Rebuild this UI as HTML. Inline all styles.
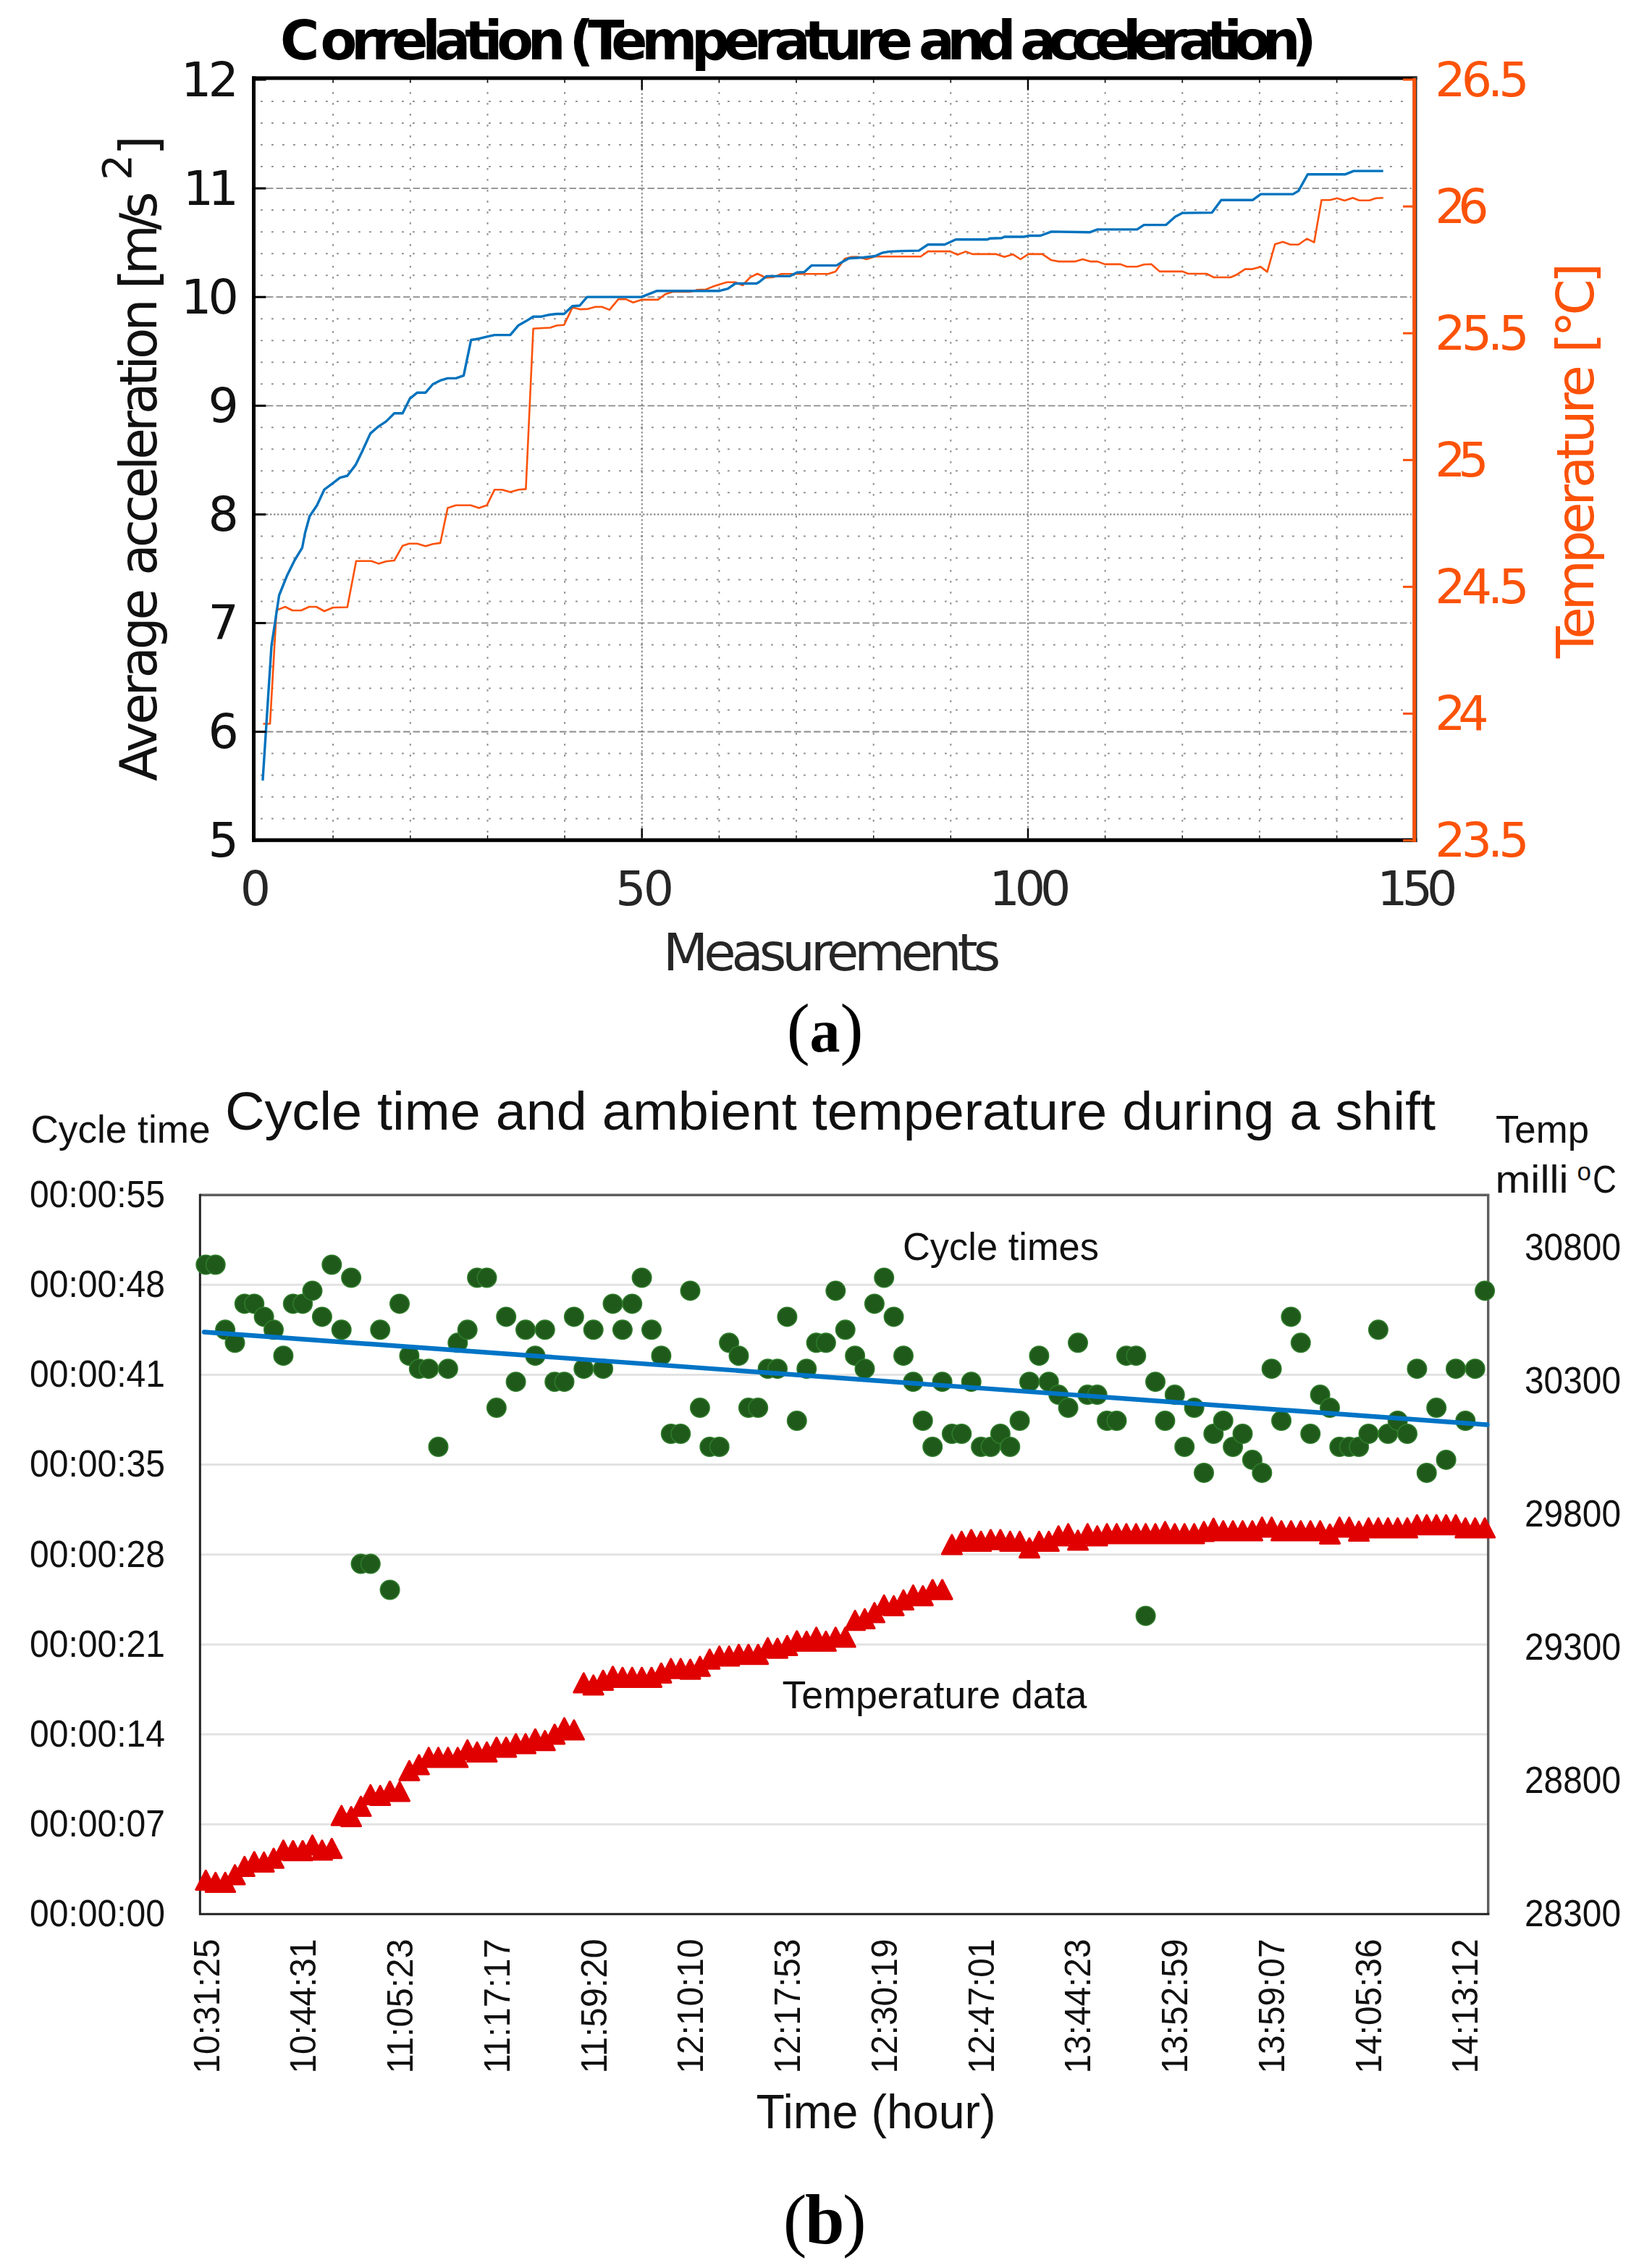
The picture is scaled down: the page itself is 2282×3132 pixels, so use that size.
<!DOCTYPE html>
<html lang="en"><head><meta charset="utf-8"><title>Figure: temperature correlation</title>
<style>html,body{margin:0;padding:0;background:#fff}svg{display:block}</style></head>
<body>
<svg width="2282" height="3132" viewBox="0 0 2282 3132">
<rect width="2282" height="3132" fill="#fff"/>
<g id="grid-a" fill="none" stroke="#6e6e6e">
<path d="M360 1130.6H1950M360 1100.6H1950M360 1070.6H1950M360 1040.5H1950M360 980.5H1950M360 950.5H1950M360 920.5H1950M360 890.5H1950M360 830.4H1950M360 800.4H1950M360 770.4H1950M360 740.4H1950M360 680.3H1950M360 650.3H1950M360 620.3H1950M360 590.3H1950M360 530.3H1950M360 500.2H1950M360 470.2H1950M360 440.2H1950M360 380.2H1950M360 350.2H1950M360 320.2H1950M360 290.1H1950M360 230.1H1950M360 200.1H1950M360 170.1H1950M360 140.1H1950" stroke-width="2" stroke-dasharray="2.8 12.2" opacity=".76"/>
<path d="M368 1010.5H1950M368 860.4H1950M368 560.3H1950M368 410.2H1950M368 260.1H1950" stroke-width="1.8" stroke-dasharray="9.5 4" opacity=".8"/>
<path d="M368 710.4H1950" stroke-width="2.2" stroke-dasharray="2.4 2.6" opacity=".8"/>
<path d="M460.1 112V1156M566.8 112V1156M673.5 112V1156M780.1 112V1156M993.4 112V1156M1100.0 112V1156M1206.7 112V1156M1313.3 112V1156M1526.6 112V1156M1633.3 112V1156M1739.9 112V1156M1846.6 112V1156" stroke-width="2" stroke-dasharray="2.8 12.2" opacity=".76"/>
<path d="M886.8 112V1156M1420.0 112V1156" stroke-width="2.2" stroke-dasharray="2.5 3" opacity=".75"/>
</g>
<polyline fill="none" stroke="#fb5208" stroke-width="2.6" stroke-linejoin="round" points="363.4,999.5 373.0,999.5 382.0,842.6 394.0,838.0 404.0,843.0 416.0,843.0 427.0,838.0 437.0,838.0 448.0,844.0 460.0,839.0 479.8,838.5 492.0,774.8 512.9,774.8 523.0,778.4 533.2,775.3 544.7,774.0 556.1,753.7 565.0,750.7 576.4,750.7 587.9,754.2 598.0,751.2 608.2,749.9 618.4,701.6 629.8,697.8 650.2,697.8 661.6,701.6 672.5,697.8 683.2,676.2 693.4,676.2 704.8,679.5 716.3,676.2 726.4,675.4 736.6,453.7 760.2,452.5 769.0,449.5 779.2,448.7 790.7,424.6 800.8,427.1 812.3,426.6 822.5,423.8 831.4,423.8 842.0,427.9 854.2,413.1 864.4,413.1 874.6,417.7 886.0,413.9 908.9,413.9 919.0,406.3 929.2,403.0 953.4,403.0 962.3,400.4 975.0,399.7 983.9,396.1 994.0,392.8 1004.2,389.7 1015.7,389.7 1025.9,394.0 1036.0,383.1 1046.2,378.0 1057.6,383.4 1069.0,382.6 1079.2,378.3 1144.0,378.3 1154.2,375.0 1167.0,357.2 1176.5,354.7 1185.4,354.7 1196.9,358.0 1208.3,354.2 1271.9,354.2 1282.0,347.1 1312.5,347.1 1322.7,351.7 1334.2,347.4 1343.0,350.9 1376.1,350.9 1387.5,354.7 1399.0,351.2 1409.7,358.0 1420.6,350.9 1439.7,350.9 1452.4,359.3 1462.5,361.1 1485.4,361.1 1495.6,358.0 1505.8,361.1 1516.0,361.1 1526.1,364.9 1547.7,364.9 1556.6,368.2 1570.6,368.2 1580.2,365.3 1590.3,364.7 1601.8,374.9 1633.6,374.9 1641.2,378.0 1666.6,378.0 1676.8,383.0 1699.7,383.0 1708.6,379.2 1720.0,371.6 1730.2,371.6 1741.6,368.6 1750.5,375.4 1761.2,337.3 1772.1,334.0 1782.3,337.8 1793.7,337.8 1805.2,329.7 1815.3,334.7 1825.5,276.3 1837.0,276.3 1847.1,273.7 1857.3,277.0 1868.7,273.2 1877.6,276.8 1891.6,276.8 1900.5,273.7 1910.7,273.2"/>
<polyline fill="none" stroke="#0072bd" stroke-width="3.4" stroke-linejoin="round" points="362.9,1077.8 375.0,892.0 385.6,822.0 396.2,795.6 406.8,774.0 417.5,756.3 421.4,736.0 427.7,713.0 437.9,697.8 448.0,676.0 458.0,668.6 469.7,659.7 479.8,657.0 491.3,641.9 500.0,624.0 511.6,598.6 521.8,589.7 533.2,582.1 544.7,570.7 556.1,570.7 566.3,550.3 576.4,542.2 587.9,542.2 598.0,530.5 608.2,525.4 618.4,522.4 629.8,522.4 640.5,518.6 650.7,469.5 661.6,467.7 671.8,465.2 683.2,462.6 704.8,462.6 716.3,449.2 726.4,443.6 736.6,437.2 748.0,437.2 758.6,434.7 769.0,433.5 779.2,433.5 790.7,422.8 800.8,422.0 811.0,410.1 886.0,410.1 907.6,401.7 994.0,401.7 1005.5,398.6 1015.7,391.5 1045.0,391.5 1048.7,389.5 1058.9,381.4 1090.7,381.4 1100.9,376.3 1111.0,375.8 1121.2,366.6 1155.5,366.6 1163.0,362.0 1172.7,356.8 1193.0,355.5 1208.3,353.7 1218.5,349.2 1228.6,347.4 1246.4,346.6 1269.3,346.1 1282.0,337.7 1304.9,337.7 1320.2,330.8 1363.4,330.8 1367.2,329.3 1383.7,328.8 1387.5,327.0 1414.2,327.0 1421.9,325.5 1437.1,325.5 1452.4,319.9 1505.8,320.7 1516.0,316.9 1570.6,316.9 1580.2,310.6 1610.7,310.6 1623.4,299.2 1633.6,294.1 1674.2,293.6 1687.0,276.3 1730.2,276.3 1741.6,268.1 1786.1,268.1 1793.7,263.6 1806.4,240.7 1858.6,240.7 1870.0,236.1 1910.7,236.1"/>
<g id="frame-a">
<rect x="348" y="105.4" width="1609.5" height="5" fill="#000"/>
<rect x="348" y="1157.6" width="1609.5" height="5.2" fill="#000"/>
<rect x="348" y="105.4" width="5" height="1057.4" fill="#000"/>
<rect x="1951.5" y="105.4" width="6" height="1057.4" fill="#333"/>
<rect x="1951.3" y="108" width="4.8" height="1054.8" fill="#fb5208"/>
<rect x="353" y="1159.1" width="14.5" height="3" fill="#000"/>
<rect x="353" y="1009.0" width="14.5" height="3" fill="#000"/>
<rect x="353" y="858.9" width="14.5" height="3" fill="#000"/>
<rect x="353" y="708.9" width="14.5" height="3" fill="#000"/>
<rect x="353" y="558.8" width="14.5" height="3" fill="#000"/>
<rect x="353" y="408.7" width="14.5" height="3" fill="#000"/>
<rect x="353" y="258.6" width="14.5" height="3" fill="#000"/>
<rect x="353" y="108.5" width="14.5" height="3" fill="#000"/>
<rect x="1938" y="1159.1" width="14" height="3" fill="#fb5208"/>
<rect x="1938" y="984.0" width="14" height="3" fill="#fb5208"/>
<rect x="1938" y="808.9" width="14" height="3" fill="#fb5208"/>
<rect x="1938" y="633.8" width="14" height="3" fill="#fb5208"/>
<rect x="1938" y="458.7" width="14" height="3" fill="#fb5208"/>
<rect x="1938" y="283.6" width="14" height="3" fill="#fb5208"/>
<rect x="1938" y="108.5" width="14" height="3" fill="#fb5208"/>
<rect x="459.4" y="1153.6" width="1.4" height="4" fill="#000"/>
<rect x="459.4" y="110" width="1.4" height="4" fill="#000"/>
<rect x="566.1" y="1153.6" width="1.4" height="4" fill="#000"/>
<rect x="566.1" y="110" width="1.4" height="4" fill="#000"/>
<rect x="672.8" y="1153.6" width="1.4" height="4" fill="#000"/>
<rect x="672.8" y="110" width="1.4" height="4" fill="#000"/>
<rect x="779.4" y="1153.6" width="1.4" height="4" fill="#000"/>
<rect x="779.4" y="110" width="1.4" height="4" fill="#000"/>
<rect x="885.5" y="1143.6" width="2.4" height="14" fill="#000"/>
<rect x="885.5" y="110" width="2.4" height="14" fill="#000"/>
<rect x="992.7" y="1153.6" width="1.4" height="4" fill="#000"/>
<rect x="992.7" y="110" width="1.4" height="4" fill="#000"/>
<rect x="1099.3" y="1153.6" width="1.4" height="4" fill="#000"/>
<rect x="1099.3" y="110" width="1.4" height="4" fill="#000"/>
<rect x="1206.0" y="1153.6" width="1.4" height="4" fill="#000"/>
<rect x="1206.0" y="110" width="1.4" height="4" fill="#000"/>
<rect x="1312.6" y="1153.6" width="1.4" height="4" fill="#000"/>
<rect x="1312.6" y="110" width="1.4" height="4" fill="#000"/>
<rect x="1418.8" y="1143.6" width="2.4" height="14" fill="#000"/>
<rect x="1418.8" y="110" width="2.4" height="14" fill="#000"/>
<rect x="1525.9" y="1153.6" width="1.4" height="4" fill="#000"/>
<rect x="1525.9" y="110" width="1.4" height="4" fill="#000"/>
<rect x="1632.6" y="1153.6" width="1.4" height="4" fill="#000"/>
<rect x="1632.6" y="110" width="1.4" height="4" fill="#000"/>
<rect x="1739.2" y="1153.6" width="1.4" height="4" fill="#000"/>
<rect x="1739.2" y="110" width="1.4" height="4" fill="#000"/>
<rect x="1845.9" y="1153.6" width="1.4" height="4" fill="#000"/>
<rect x="1845.9" y="110" width="1.4" height="4" fill="#000"/>
</g>
<g id="text-a" font-family="DejaVu Sans, Liberation Sans, sans-serif">
<text y="81.5" font-size="74" font-weight="bold" fill="#000"><tspan x="387">C</tspan><tspan x="442.4" textLength="339" lengthAdjust="spacing">orrelation</tspan> <tspan x="786.5" textLength="474.5" lengthAdjust="spacing">(Temperature</tspan> <tspan x="1269" textLength="134.4" lengthAdjust="spacing">and</tspan> <tspan x="1409.3" textLength="409.4" lengthAdjust="spacing">acceleration)</tspan></text>
<text x="329.8" y="1183.1" font-size="66.5" text-anchor="end" fill="#111">5</text>
<text x="329.8" y="1033.0" font-size="66.5" text-anchor="end" fill="#111">6</text>
<text x="329.8" y="882.9" font-size="66.5" text-anchor="end" fill="#111">7</text>
<text x="329.8" y="732.9" font-size="66.5" text-anchor="end" fill="#111">8</text>
<text x="329.8" y="582.8" font-size="66.5" text-anchor="end" fill="#111">9</text>
<text x="329.8" y="432.7" font-size="66.5" text-anchor="end" fill="#111" textLength="79.9" lengthAdjust="spacing">10</text>
<text x="329.8" y="282.6" font-size="66.5" text-anchor="end" fill="#111" textLength="77" lengthAdjust="spacing">11</text>
<text x="329.8" y="132.5" font-size="66.5" text-anchor="end" fill="#111" textLength="79.9" lengthAdjust="spacing">12</text>
<text x="1982.3" y="1183.1" font-size="66.5" fill="#fb5208" textLength="130.3" lengthAdjust="spacing">23.5</text>
<text x="1982.3" y="1008.0" font-size="66.5" fill="#fb5208" textLength="74.2" lengthAdjust="spacing">24</text>
<text x="1982.3" y="832.9" font-size="66.5" fill="#fb5208" textLength="130.3" lengthAdjust="spacing">24.5</text>
<text x="1982.3" y="657.8" font-size="66.5" fill="#fb5208" textLength="74.2" lengthAdjust="spacing">25</text>
<text x="1982.3" y="482.7" font-size="66.5" fill="#fb5208" textLength="130.3" lengthAdjust="spacing">25.5</text>
<text x="1982.3" y="307.6" font-size="66.5" fill="#fb5208" textLength="74.2" lengthAdjust="spacing">26</text>
<text x="1982.3" y="132.5" font-size="66.5" fill="#fb5208" textLength="130.3" lengthAdjust="spacing">26.5</text>
<text x="353.0" y="1249.5" font-size="66.5" text-anchor="middle" fill="#262626">0</text>
<text x="890.7" y="1249.5" font-size="66.5" text-anchor="middle" fill="#262626" textLength="80.7" lengthAdjust="spacing">50</text>
<text x="1422.9" y="1249.5" font-size="66.5" text-anchor="middle" fill="#262626" textLength="113" lengthAdjust="spacing">100</text>
<text x="1957.8" y="1249.5" font-size="66.5" text-anchor="middle" fill="#262626" textLength="110.9" lengthAdjust="spacing">150</text>
<text x="916" y="1339.8" font-size="72" fill="#262626" textLength="466.3" lengthAdjust="spacing">Measurements</text>
<g transform="translate(215.7 1078.8) rotate(-90)" fill="#111" font-size="71"><text textLength="266.1" lengthAdjust="spacing">Average</text><text x="284.1" textLength="382.2" lengthAdjust="spacing">acceleration</text><text x="679.5" textLength="134.7" lengthAdjust="spacing">[m/s</text><text x="830" y="-34.3" font-size="56">2</text><text x="864">]</text></g>
<g transform="translate(2200.5 910) rotate(-90)" fill="#fb5208" font-size="72"><text x="1" textLength="404.8" lengthAdjust="spacing">Temperature</text><text x="422.4" textLength="124.4" lengthAdjust="spacing">[°C]</text></g>
</g>
<text x="1139.6" y="1451.8" font-family="Liberation Serif, DejaVu Serif, serif" font-size="96" text-anchor="middle" fill="#000">(<tspan font-weight="bold" font-size="84">a</tspan>)</text>
<g id="chart-b">
<path d="M276.3 1774.3H2055.7M276.3 1898.5H2055.7M276.3 2022.6H2055.7M276.3 2146.8H2055.7M276.3 2270.9H2055.7M276.3 2395.0H2055.7M276.3 2519.2H2055.7" stroke="#e2e2e2" stroke-width="3" fill="none"/>
<path d="M276.3 1650.2H2055.7V2643.3" fill="none" stroke="#5e5e5e" stroke-width="3.4"/>
<path d="M276.3 1648.7V2643.3H2057.4" fill="none" stroke="#222" stroke-width="3"/>
<g fill="#1f5a1b" stroke="#2f7a2a" stroke-width="1.6">
<circle cx="284.3" cy="1746.5" r="13.2"/>
<circle cx="297.7" cy="1746.5" r="13.2"/>
<circle cx="311.1" cy="1836.3" r="13.2"/>
<circle cx="324.5" cy="1854.3" r="13.2"/>
<circle cx="337.8" cy="1800.4" r="13.2"/>
<circle cx="351.2" cy="1800.4" r="13.2"/>
<circle cx="364.6" cy="1818.4" r="13.2"/>
<circle cx="378.0" cy="1836.3" r="13.2"/>
<circle cx="391.4" cy="1872.2" r="13.2"/>
<circle cx="404.8" cy="1800.4" r="13.2"/>
<circle cx="418.1" cy="1800.4" r="13.2"/>
<circle cx="431.5" cy="1782.4" r="13.2"/>
<circle cx="444.9" cy="1818.4" r="13.2"/>
<circle cx="458.3" cy="1746.5" r="13.2"/>
<circle cx="471.7" cy="1836.3" r="13.2"/>
<circle cx="485.1" cy="1764.5" r="13.2"/>
<circle cx="498.5" cy="2159.6" r="13.2"/>
<circle cx="511.8" cy="2159.6" r="13.2"/>
<circle cx="525.2" cy="1836.3" r="13.2"/>
<circle cx="538.6" cy="2195.5" r="13.2"/>
<circle cx="552.0" cy="1800.4" r="13.2"/>
<circle cx="565.4" cy="1872.2" r="13.2"/>
<circle cx="578.8" cy="1890.2" r="13.2"/>
<circle cx="592.2" cy="1890.2" r="13.2"/>
<circle cx="605.5" cy="1998.0" r="13.2"/>
<circle cx="618.9" cy="1890.2" r="13.2"/>
<circle cx="632.3" cy="1854.3" r="13.2"/>
<circle cx="645.7" cy="1836.3" r="13.2"/>
<circle cx="659.1" cy="1764.5" r="13.2"/>
<circle cx="672.5" cy="1764.5" r="13.2"/>
<circle cx="685.9" cy="1944.1" r="13.2"/>
<circle cx="699.2" cy="1818.4" r="13.2"/>
<circle cx="712.6" cy="1908.2" r="13.2"/>
<circle cx="726.0" cy="1836.3" r="13.2"/>
<circle cx="739.4" cy="1872.2" r="13.2"/>
<circle cx="752.8" cy="1836.3" r="13.2"/>
<circle cx="766.2" cy="1908.2" r="13.2"/>
<circle cx="779.5" cy="1908.2" r="13.2"/>
<circle cx="792.9" cy="1818.4" r="13.2"/>
<circle cx="806.3" cy="1890.2" r="13.2"/>
<circle cx="819.7" cy="1836.3" r="13.2"/>
<circle cx="833.1" cy="1890.2" r="13.2"/>
<circle cx="846.5" cy="1800.4" r="13.2"/>
<circle cx="859.9" cy="1836.3" r="13.2"/>
<circle cx="873.2" cy="1800.4" r="13.2"/>
<circle cx="886.6" cy="1764.5" r="13.2"/>
<circle cx="900.0" cy="1836.3" r="13.2"/>
<circle cx="913.4" cy="1872.2" r="13.2"/>
<circle cx="926.8" cy="1980.0" r="13.2"/>
<circle cx="940.2" cy="1980.0" r="13.2"/>
<circle cx="953.5" cy="1782.4" r="13.2"/>
<circle cx="966.9" cy="1944.1" r="13.2"/>
<circle cx="980.3" cy="1998.0" r="13.2"/>
<circle cx="993.7" cy="1998.0" r="13.2"/>
<circle cx="1007.1" cy="1854.3" r="13.2"/>
<circle cx="1020.5" cy="1872.2" r="13.2"/>
<circle cx="1033.9" cy="1944.1" r="13.2"/>
<circle cx="1047.2" cy="1944.1" r="13.2"/>
<circle cx="1060.6" cy="1890.2" r="13.2"/>
<circle cx="1074.0" cy="1890.2" r="13.2"/>
<circle cx="1087.4" cy="1818.4" r="13.2"/>
<circle cx="1100.8" cy="1962.0" r="13.2"/>
<circle cx="1114.2" cy="1890.2" r="13.2"/>
<circle cx="1127.6" cy="1854.3" r="13.2"/>
<circle cx="1140.9" cy="1854.3" r="13.2"/>
<circle cx="1154.3" cy="1782.4" r="13.2"/>
<circle cx="1167.7" cy="1836.3" r="13.2"/>
<circle cx="1181.1" cy="1872.2" r="13.2"/>
<circle cx="1194.5" cy="1890.2" r="13.2"/>
<circle cx="1207.9" cy="1800.4" r="13.2"/>
<circle cx="1221.2" cy="1764.5" r="13.2"/>
<circle cx="1234.6" cy="1818.4" r="13.2"/>
<circle cx="1248.0" cy="1872.2" r="13.2"/>
<circle cx="1261.4" cy="1908.2" r="13.2"/>
<circle cx="1274.8" cy="1962.0" r="13.2"/>
<circle cx="1288.2" cy="1998.0" r="13.2"/>
<circle cx="1301.6" cy="1908.2" r="13.2"/>
<circle cx="1314.9" cy="1980.0" r="13.2"/>
<circle cx="1328.3" cy="1980.0" r="13.2"/>
<circle cx="1341.7" cy="1908.2" r="13.2"/>
<circle cx="1355.1" cy="1998.0" r="13.2"/>
<circle cx="1368.5" cy="1998.0" r="13.2"/>
<circle cx="1381.9" cy="1980.0" r="13.2"/>
<circle cx="1395.3" cy="1998.0" r="13.2"/>
<circle cx="1408.6" cy="1962.0" r="13.2"/>
<circle cx="1422.0" cy="1908.2" r="13.2"/>
<circle cx="1435.4" cy="1872.2" r="13.2"/>
<circle cx="1448.8" cy="1908.2" r="13.2"/>
<circle cx="1462.2" cy="1926.1" r="13.2"/>
<circle cx="1475.6" cy="1944.1" r="13.2"/>
<circle cx="1489.0" cy="1854.3" r="13.2"/>
<circle cx="1502.3" cy="1926.1" r="13.2"/>
<circle cx="1515.7" cy="1926.1" r="13.2"/>
<circle cx="1529.1" cy="1962.0" r="13.2"/>
<circle cx="1542.5" cy="1962.0" r="13.2"/>
<circle cx="1555.9" cy="1872.2" r="13.2"/>
<circle cx="1569.3" cy="1872.2" r="13.2"/>
<circle cx="1582.6" cy="2231.4" r="13.2"/>
<circle cx="1596.0" cy="1908.2" r="13.2"/>
<circle cx="1609.4" cy="1962.0" r="13.2"/>
<circle cx="1622.8" cy="1926.1" r="13.2"/>
<circle cx="1636.2" cy="1998.0" r="13.2"/>
<circle cx="1649.6" cy="1944.1" r="13.2"/>
<circle cx="1663.0" cy="2033.9" r="13.2"/>
<circle cx="1676.3" cy="1980.0" r="13.2"/>
<circle cx="1689.7" cy="1962.0" r="13.2"/>
<circle cx="1703.1" cy="1998.0" r="13.2"/>
<circle cx="1716.5" cy="1980.0" r="13.2"/>
<circle cx="1729.9" cy="2015.9" r="13.2"/>
<circle cx="1743.3" cy="2033.9" r="13.2"/>
<circle cx="1756.6" cy="1890.2" r="13.2"/>
<circle cx="1770.0" cy="1962.0" r="13.2"/>
<circle cx="1783.4" cy="1818.4" r="13.2"/>
<circle cx="1796.8" cy="1854.3" r="13.2"/>
<circle cx="1810.2" cy="1980.0" r="13.2"/>
<circle cx="1823.6" cy="1926.1" r="13.2"/>
<circle cx="1837.0" cy="1944.1" r="13.2"/>
<circle cx="1850.3" cy="1998.0" r="13.2"/>
<circle cx="1863.7" cy="1998.0" r="13.2"/>
<circle cx="1877.1" cy="1998.0" r="13.2"/>
<circle cx="1890.5" cy="1980.0" r="13.2"/>
<circle cx="1903.9" cy="1836.3" r="13.2"/>
<circle cx="1917.3" cy="1980.0" r="13.2"/>
<circle cx="1930.7" cy="1962.0" r="13.2"/>
<circle cx="1944.0" cy="1980.0" r="13.2"/>
<circle cx="1957.4" cy="1890.2" r="13.2"/>
<circle cx="1970.8" cy="2033.9" r="13.2"/>
<circle cx="1984.2" cy="1944.1" r="13.2"/>
<circle cx="1997.6" cy="2015.9" r="13.2"/>
<circle cx="2011.0" cy="1890.2" r="13.2"/>
<circle cx="2024.3" cy="1962.0" r="13.2"/>
<circle cx="2037.7" cy="1890.2" r="13.2"/>
<circle cx="2051.1" cy="1782.4" r="13.2"/>
</g>
<path d="M284.3 2583.5l13.4 26h-26.8zM297.7 2586.5l13.4 26h-26.8zM311.1 2586.5l13.4 26h-26.8zM324.5 2575.9l13.4 26h-26.8zM337.8 2564.4l13.4 26h-26.8zM351.2 2557.8l13.4 26h-26.8zM364.6 2558.4l13.4 26h-26.8zM378.0 2553.2l13.4 26h-26.8zM391.4 2542.0l13.4 26h-26.8zM404.8 2542.6l13.4 26h-26.8zM418.1 2542.6l13.4 26h-26.8zM431.5 2535.0l13.4 26h-26.8zM444.9 2542.0l13.4 26h-26.8zM458.3 2539.6l13.4 26h-26.8zM471.7 2494.2l13.4 26h-26.8zM485.1 2495.7l13.4 26h-26.8zM498.5 2481.5l13.4 26h-26.8zM511.8 2465.5l13.4 26h-26.8zM525.2 2466.4l13.4 26h-26.8zM538.6 2460.3l13.4 26h-26.8zM552.0 2460.9l13.4 26h-26.8zM565.4 2432.2l13.4 26h-26.8zM578.8 2424.0l13.4 26h-26.8zM592.2 2414.0l13.4 26h-26.8zM605.5 2414.0l13.4 26h-26.8zM618.9 2414.0l13.4 26h-26.8zM632.3 2414.0l13.4 26h-26.8zM645.7 2403.4l13.4 26h-26.8zM659.1 2406.4l13.4 26h-26.8zM672.5 2406.4l13.4 26h-26.8zM685.9 2399.8l13.4 26h-26.8zM699.2 2399.8l13.4 26h-26.8zM712.6 2394.9l13.4 26h-26.8zM726.0 2394.9l13.4 26h-26.8zM739.4 2388.3l13.4 26h-26.8zM752.8 2390.7l13.4 26h-26.8zM766.2 2381.8l13.4 26h-26.8zM779.5 2373.0l13.4 26h-26.8zM792.9 2376.0l13.4 26h-26.8zM806.3 2310.9l13.4 26h-26.8zM819.7 2313.9l13.4 26h-26.8zM833.1 2307.3l13.4 26h-26.8zM846.5 2301.8l13.4 26h-26.8zM859.9 2303.3l13.4 26h-26.8zM873.2 2303.3l13.4 26h-26.8zM886.6 2303.3l13.4 26h-26.8zM900.0 2303.3l13.4 26h-26.8zM913.4 2297.3l13.4 26h-26.8zM926.8 2291.2l13.4 26h-26.8zM940.2 2291.2l13.4 26h-26.8zM953.5 2292.1l13.4 26h-26.8zM966.9 2288.2l13.4 26h-26.8zM980.3 2278.2l13.4 26h-26.8zM993.7 2274.0l13.4 26h-26.8zM1007.1 2274.0l13.4 26h-26.8zM1020.5 2271.6l13.4 26h-26.8zM1033.9 2271.6l13.4 26h-26.8zM1047.2 2271.6l13.4 26h-26.8zM1060.6 2262.5l13.4 26h-26.8zM1074.0 2263.1l13.4 26h-26.8zM1087.4 2259.5l13.4 26h-26.8zM1100.8 2252.8l13.4 26h-26.8zM1114.2 2253.4l13.4 26h-26.8zM1127.6 2248.0l13.4 26h-26.8zM1140.9 2253.4l13.4 26h-26.8zM1154.3 2248.0l13.4 26h-26.8zM1167.7 2248.0l13.4 26h-26.8zM1181.1 2224.7l13.4 26h-26.8zM1194.5 2222.5l13.4 26h-26.8zM1207.9 2214.0l13.4 26h-26.8zM1221.2 2203.5l13.4 26h-26.8zM1234.6 2204.4l13.4 26h-26.8zM1248.0 2196.5l13.4 26h-26.8zM1261.4 2189.7l13.4 26h-26.8zM1274.8 2190.6l13.4 26h-26.8zM1288.2 2182.1l13.4 26h-26.8zM1301.6 2182.1l13.4 26h-26.8zM1314.9 2120.0l13.4 26h-26.8zM1328.3 2115.5l13.4 26h-26.8zM1341.7 2113.1l13.4 26h-26.8zM1355.1 2115.5l13.4 26h-26.8zM1368.5 2113.1l13.4 26h-26.8zM1381.9 2113.1l13.4 26h-26.8zM1395.3 2115.5l13.4 26h-26.8zM1408.6 2115.5l13.4 26h-26.8zM1422.0 2124.6l13.4 26h-26.8zM1435.4 2115.5l13.4 26h-26.8zM1448.8 2115.5l13.4 26h-26.8zM1462.2 2107.9l13.4 26h-26.8zM1475.6 2104.9l13.4 26h-26.8zM1489.0 2114.0l13.4 26h-26.8zM1502.3 2104.9l13.4 26h-26.8zM1515.7 2107.9l13.4 26h-26.8zM1529.1 2104.9l13.4 26h-26.8zM1542.5 2104.9l13.4 26h-26.8zM1555.9 2104.9l13.4 26h-26.8zM1569.3 2104.9l13.4 26h-26.8zM1582.6 2104.9l13.4 26h-26.8zM1596.0 2104.9l13.4 26h-26.8zM1609.4 2101.9l13.4 26h-26.8zM1622.8 2104.9l13.4 26h-26.8zM1636.2 2104.9l13.4 26h-26.8zM1649.6 2104.9l13.4 26h-26.8zM1663.0 2101.9l13.4 26h-26.8zM1676.3 2097.4l13.4 26h-26.8zM1689.7 2101.0l13.4 26h-26.8zM1703.1 2101.0l13.4 26h-26.8zM1716.5 2101.0l13.4 26h-26.8zM1729.9 2101.0l13.4 26h-26.8zM1743.3 2095.9l13.4 26h-26.8zM1756.6 2095.9l13.4 26h-26.8zM1770.0 2101.0l13.4 26h-26.8zM1783.4 2101.0l13.4 26h-26.8zM1796.8 2101.0l13.4 26h-26.8zM1810.2 2101.0l13.4 26h-26.8zM1823.6 2101.0l13.4 26h-26.8zM1837.0 2105.3l13.4 26h-26.8zM1850.3 2095.9l13.4 26h-26.8zM1863.7 2095.9l13.4 26h-26.8zM1877.1 2101.5l13.4 26h-26.8zM1890.5 2097.0l13.4 26h-26.8zM1903.9 2097.0l13.4 26h-26.8zM1917.3 2097.0l13.4 26h-26.8zM1930.7 2097.0l13.4 26h-26.8zM1944.0 2097.0l13.4 26h-26.8zM1957.4 2092.6l13.4 26h-26.8zM1970.8 2092.6l13.4 26h-26.8zM1984.2 2092.6l13.4 26h-26.8zM1997.6 2092.6l13.4 26h-26.8zM2011.0 2092.6l13.4 26h-26.8zM2024.3 2097.0l13.4 26h-26.8zM2037.7 2097.0l13.4 26h-26.8zM2051.1 2097.0l13.4 26h-26.8z" fill="#e00000" stroke="#e00000" stroke-width="3.2" stroke-linejoin="round"/>
<line x1="282" y1="1839.5" x2="2054.4" y2="1967.5" stroke="#0074c6" stroke-width="6.4" stroke-linecap="round"/>
</g>
<g id="text-b" font-family="Liberation Sans, DejaVu Sans, sans-serif" fill="#111">
<text x="311" y="1560" font-size="75" textLength="1672" lengthAdjust="spacingAndGlyphs">Cycle time and ambient temperature during a shift</text>
<text x="42.5" y="1577.5" font-size="54.5" textLength="248" lengthAdjust="spacingAndGlyphs">Cycle time</text>
<text x="2066" y="1577.5" font-size="54.5" textLength="129" lengthAdjust="spacingAndGlyphs">Temp</text>
<text y="1647" font-size="54.5"><tspan x="2065.5" textLength="101" lengthAdjust="spacingAndGlyphs">milli</tspan><tspan x="2178.5" dy="-17" font-size="35">o</tspan><tspan x="2200" dy="17" textLength="33" lengthAdjust="spacingAndGlyphs">C</tspan></text>
<text x="41" y="1667.0" font-size="51.5" textLength="187" lengthAdjust="spacingAndGlyphs">00:00:55</text>
<text x="41" y="1791.1" font-size="51.5" textLength="187" lengthAdjust="spacingAndGlyphs">00:00:48</text>
<text x="41" y="1915.3" font-size="51.5" textLength="187" lengthAdjust="spacingAndGlyphs">00:00:41</text>
<text x="41" y="2039.4" font-size="51.5" textLength="187" lengthAdjust="spacingAndGlyphs">00:00:35</text>
<text x="41" y="2163.6" font-size="51.5" textLength="187" lengthAdjust="spacingAndGlyphs">00:00:28</text>
<text x="41" y="2287.7" font-size="51.5" textLength="187" lengthAdjust="spacingAndGlyphs">00:00:21</text>
<text x="41" y="2411.8" font-size="51.5" textLength="187" lengthAdjust="spacingAndGlyphs">00:00:14</text>
<text x="41" y="2536.0" font-size="51.5" textLength="187" lengthAdjust="spacingAndGlyphs">00:00:07</text>
<text x="41" y="2660.1" font-size="51.5" textLength="187" lengthAdjust="spacingAndGlyphs">00:00:00</text>
<text x="2106" y="1740.0" font-size="51" textLength="133" lengthAdjust="spacingAndGlyphs">30800</text>
<text x="2106" y="1923.9" font-size="51" textLength="133" lengthAdjust="spacingAndGlyphs">30300</text>
<text x="2106" y="2107.8" font-size="51" textLength="133" lengthAdjust="spacingAndGlyphs">29800</text>
<text x="2106" y="2291.7" font-size="51" textLength="133" lengthAdjust="spacingAndGlyphs">29300</text>
<text x="2106" y="2475.6" font-size="51" textLength="133" lengthAdjust="spacingAndGlyphs">28800</text>
<text x="2106" y="2659.5" font-size="51" textLength="133" lengthAdjust="spacingAndGlyphs">28300</text>
<text transform="translate(302.5 2863.5) rotate(-90)" font-size="49.5" textLength="186" lengthAdjust="spacingAndGlyphs">10:31:25</text>
<text transform="translate(436.2 2863.5) rotate(-90)" font-size="49.5" textLength="186" lengthAdjust="spacingAndGlyphs">10:44:31</text>
<text transform="translate(570.0 2863.5) rotate(-90)" font-size="49.5" textLength="186" lengthAdjust="spacingAndGlyphs">11:05:23</text>
<text transform="translate(703.8 2863.5) rotate(-90)" font-size="49.5" textLength="186" lengthAdjust="spacingAndGlyphs">11:17:17</text>
<text transform="translate(837.5 2863.5) rotate(-90)" font-size="49.5" textLength="186" lengthAdjust="spacingAndGlyphs">11:59:20</text>
<text transform="translate(971.2 2863.5) rotate(-90)" font-size="49.5" textLength="186" lengthAdjust="spacingAndGlyphs">12:10:10</text>
<text transform="translate(1105.0 2863.5) rotate(-90)" font-size="49.5" textLength="186" lengthAdjust="spacingAndGlyphs">12:17:53</text>
<text transform="translate(1238.8 2863.5) rotate(-90)" font-size="49.5" textLength="186" lengthAdjust="spacingAndGlyphs">12:30:19</text>
<text transform="translate(1372.5 2863.5) rotate(-90)" font-size="49.5" textLength="186" lengthAdjust="spacingAndGlyphs">12:47:01</text>
<text transform="translate(1506.2 2863.5) rotate(-90)" font-size="49.5" textLength="186" lengthAdjust="spacingAndGlyphs">13:44:23</text>
<text transform="translate(1640.0 2863.5) rotate(-90)" font-size="49.5" textLength="186" lengthAdjust="spacingAndGlyphs">13:52:59</text>
<text transform="translate(1773.8 2863.5) rotate(-90)" font-size="49.5" textLength="186" lengthAdjust="spacingAndGlyphs">13:59:07</text>
<text transform="translate(1907.5 2863.5) rotate(-90)" font-size="49.5" textLength="186" lengthAdjust="spacingAndGlyphs">14:05:36</text>
<text transform="translate(2041.2 2863.5) rotate(-90)" font-size="49.5" textLength="186" lengthAdjust="spacingAndGlyphs">14:13:12</text>
<text x="1044.5" y="2938.5" font-size="66" textLength="331" lengthAdjust="spacingAndGlyphs">Time (hour)</text>
<text x="1247" y="1740" font-size="54.5" textLength="271" lengthAdjust="spacingAndGlyphs">Cycle times</text>
<text x="1080.5" y="2359" font-size="54.5" textLength="421" lengthAdjust="spacingAndGlyphs">Temperature data</text>
</g>
<text x="1139.2" y="3097.6" font-family="Liberation Serif, DejaVu Serif, serif" font-size="98" text-anchor="middle" fill="#000" textLength="115" lengthAdjust="spacing">(<tspan font-weight="bold" font-size="98">b</tspan>)</text>
</svg>
</body></html>
